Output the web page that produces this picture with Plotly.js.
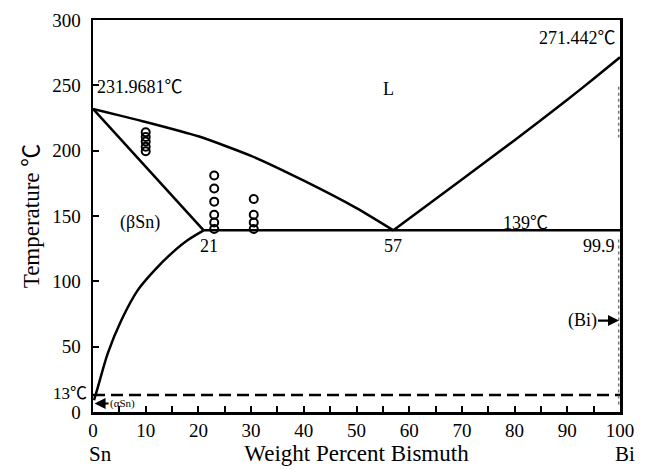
<!DOCTYPE html>
<html><head><meta charset="utf-8">
<script src="https://cdn.plot.ly/plotly-3.0.1.min.js"></script>
<style>html,body{margin:0;padding:0;background:#fff}#chart{width:646px;height:469px}</style>
</head><body><div id="chart"></div>
<script>
// Liquidus, Sn-rich side
var liqSnX = [0, 10, 20, 30, 40, 50, 57];
var liqSnT = [231.9681, 222, 211, 196, 177, 156, 139];
// Liquidus, Bi-rich side
var liqBiX = [57, 70, 80, 90, 95, 100];
var liqBiT = [139, 178, 208, 239, 255, 271.442];
// Solidus of (βSn)
var solSnX = [0, 21];
var solSnT = [231.9681, 139];
// Solvus of (βSn)
var solvX = [21, 18, 14.9, 11.7, 8.5, 5.4, 2.8, 0.95, 0.2];
var solvT = [139, 131.6, 121.4, 108.6, 93.3, 70.4, 44.9, 19.4, 9];
// Eutectic isotherm
var eutX = [21, 100];
var eutT = [139, 139];
// Allotropic transformation (dashed)
var alloX = [0, 100];
var alloT = [13, 13];
// (Bi) boundary, faint dotted
var biX1 = [99.75, 99.75]; var biT1 = [249, 210];
var biX2 = [99.75, 99.75]; var biT2 = [132, 4];
// Experimental points
var ptX = [10,10,10,10,10, 23,23,23,23,23,23, 30.5,30.5,30.5,30.5];
var ptT = [214,210.5,207,203,199.5, 181,171,161,151,145,140, 163,151,145,140];

var serif = 'Liberation Serif, Noto Sans CJK SC, serif';
var blk = '#000';
function ln(x, y, extra) {
  return Object.assign({x: x, y: y, type: 'scatter', mode: 'lines', hoverinfo: 'skip',
    line: {color: blk, width: 2.5}}, extra || {});
}
var data = [
  ln(liqSnX, liqSnT, {line: {color: blk, width: 2.5, shape: 'spline', smoothing: 0.6}}),
  ln(liqBiX, liqBiT, {line: {color: blk, width: 2.5, shape: 'spline', smoothing: 0.6}}),
  ln(solSnX, solSnT),
  ln(solvX, solvT, {line: {color: blk, width: 2.5, shape: 'spline', smoothing: 0.8}}),
  ln(eutX, eutT),
  ln(alloX, alloT, {line: {color: blk, width: 2.5, dash: '12px,6px'}}),
  ln(biX1, biT1, {line: {color: '#777', width: 1.5, dash: 'dot'}}),
  ln(biX2, biT2, {line: {color: '#777', width: 1.5, dash: 'dot'}}),
  {x: ptX, y: ptT, type: 'scatter', mode: 'markers', hoverinfo: 'skip',
   marker: {symbol: 'circle-open', size: 8, color: blk, line: {width: 2, color: blk}}}
];

function ann(text, x, y, size, extra) {
  return Object.assign({text: text, x: x, y: y, xref: 'x', yref: 'y', showarrow: false,
    font: {family: serif, size: size || 17, color: blk}}, extra || {});
}
var annotations = [
  ann('231.9681℃', 0.4, 249, 18, {xanchor: 'left'}),
  ann('L', 56, 247, 18),
  ann('(βSn)', 9, 145, 18),
  ann('21', 22, 127, 18),
  ann('57', 57, 127, 18),
  ann('139℃', 82, 145, 18),
  ann('99.9', 99.5, 127, 18, {xanchor: 'right'}),
  ann('271.442℃', 99.7, 286, 18, {xanchor: 'right'}),
  ann('13℃', 0, 14, 17, {xanchor: 'right', xshift: -4}),
  {text: '(Bi)', x: 100, y: 70, xref: 'x', yref: 'y', showarrow: true, arrowhead: 2,
   arrowsize: 1, arrowwidth: 2.2, arrowcolor: blk, ax: -38, ay: 0, standoff: 1,
   font: {family: serif, size: 18, color: blk}},
  {text: '(αSn)', x: 0.3, y: 6.5, xref: 'x', yref: 'y', showarrow: true, arrowhead: 2,
   arrowsize: 1, arrowwidth: 2.2, arrowcolor: blk, ax: 28, ay: 0, standoff: 0,
   font: {family: serif, size: 11, color: blk}},
  {text: 'Sn', x: 0, y: 0, xref: 'paper', yref: 'paper', xanchor: 'center', yanchor: 'middle',
   xshift: 7, yshift: -42, showarrow: false, font: {family: serif, size: 21, color: blk}},
  {text: 'Bi', x: 1, y: 0, xref: 'paper', yref: 'paper', xanchor: 'center', yanchor: 'middle',
   xshift: 5, yshift: -42, showarrow: false, font: {family: serif, size: 21, color: blk}}
];

var layout = {
  width: 646, height: 469,
  margin: {l: 93, r: 26, t: 20, b: 57},
  paper_bgcolor: '#fff', plot_bgcolor: '#fff',
  showlegend: false,
  font: {family: serif, color: blk, size: 19},
  xaxis: {range: [0, 100], showgrid: false, zeroline: false, showline: true, linecolor: blk,
    linewidth: 2.5, mirror: true, ticks: 'inside', ticklen: 6, tickwidth: 2, tickcolor: blk,
    tick0: 0, dtick: 10, minor: {dtick: 5, ticks: 'inside', ticklen: 6, tickwidth: 2, tickcolor: blk},
    tickfont: {family: serif, size: 19, color: blk}, ticklabelstandoff: 0,
    title: {text: 'Weight Percent Bismuth', font: {family: serif, size: 23, color: blk}, standoff: 5}},
  yaxis: {range: [0, 300], showgrid: false, zeroline: false, showline: true, linecolor: blk,
    linewidth: 2.5, mirror: true, ticks: 'inside', ticklen: 6, tickwidth: 2, tickcolor: blk,
    tick0: 0, dtick: 50, tickfont: {family: serif, size: 19, color: blk}, ticklabelstandoff: 6,
    title: {text: 'Temperature ℃', font: {family: serif, size: 23, color: blk}, standoff: 6}},
  annotations: annotations
};
Plotly.newPlot('chart', data, layout, {displayModeBar: false, staticPlot: true});
</script></body></html>
